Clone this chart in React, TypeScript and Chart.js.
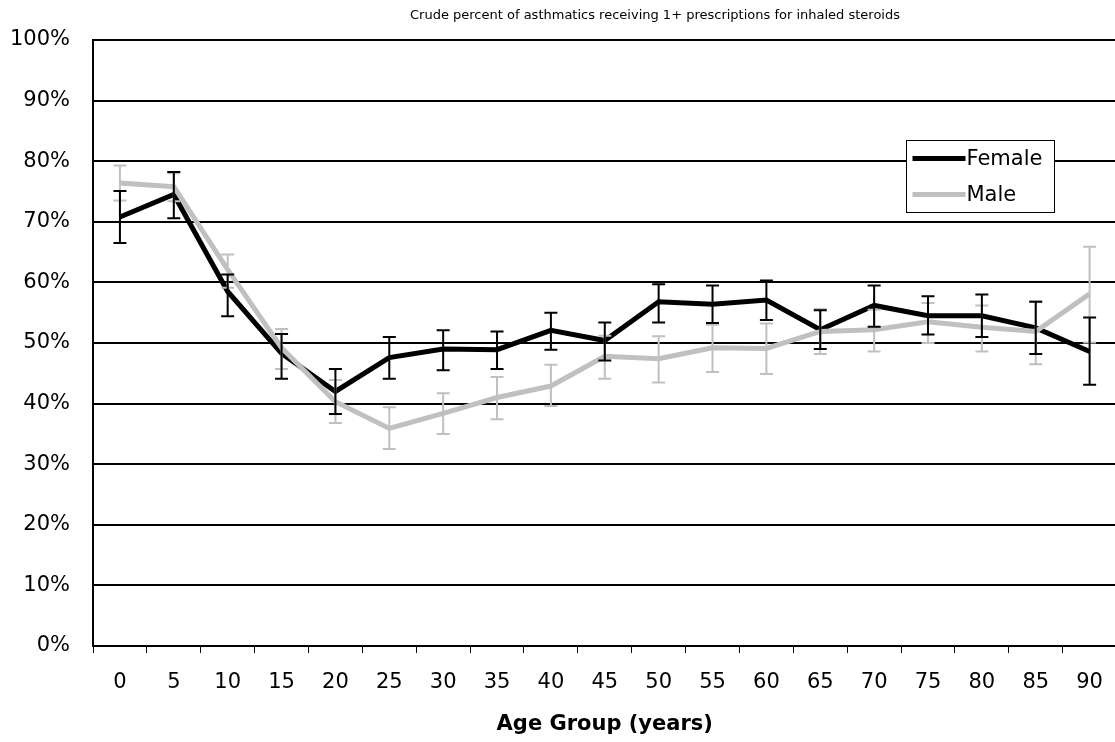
import React, { useEffect, useRef } from 'react';
import { Chart, registerables } from 'chart.js';

Chart.register(...registerables);

// ---- Data ----
const ageGroups = ['0', '5', '10', '15', '20', '25', '30', '35', '40', '45', '50', '55', '60', '65', '70', '75', '80', '85', '90'];

const female = [70.8, 74.5, 58.5, 48.3, 42.0, 47.6, 49.0, 48.9, 52.1, 50.4, 56.8, 56.4, 57.1, 52.2, 56.2, 54.5, 54.5, 52.5, 48.6];
const femaleLow = [66.5, 70.6, 54.4, 44.1, 38.3, 44.1, 45.5, 45.7, 48.9, 47.1, 53.4, 53.3, 53.8, 49.0, 52.7, 51.4, 51.0, 48.2, 43.1];
const femaleHigh = [75.1, 78.2, 61.3, 51.5, 45.7, 51.0, 52.1, 51.9, 55.0, 53.4, 59.7, 59.5, 60.3, 55.4, 59.5, 57.7, 58.0, 56.8, 54.2];

const male = [76.4, 75.8, 62.1, 49.2, 40.3, 35.9, 38.4, 41.0, 42.9, 47.8, 47.4, 49.2, 49.1, 51.9, 52.2, 53.5, 52.6, 51.9, 58.1];
const maleLow = [73.5, 73.4, 59.1, 45.7, 36.8, 32.5, 35.0, 37.4, 39.6, 44.1, 43.5, 45.2, 44.9, 48.2, 48.6, 50.0, 48.6, 46.5, 50.1];
const maleHigh = [79.3, 78.0, 64.6, 52.3, 43.9, 39.4, 41.7, 44.4, 46.4, 51.2, 51.1, 53.0, 53.2, 55.6, 55.5, 56.6, 56.2, 56.9, 65.9];

const chartTitle = 'Crude percent of asthmatics receiving 1+ prescriptions for inhaled steroids';
const xAxisTitle = 'Age Group (years)';
const seriesNames = ['Female', 'Male'];

const FEMALE_COLOR = '#000000';
const MALE_COLOR = '#c0c0c0';
const FONT = '"DejaVu Sans", "Liberation Sans", Arial, sans-serif';

const errorBarPlugin = {
  id: 'errorBars',
  afterDatasetsDraw(chart: any) {
    const { ctx, scales } = chart;
    const xs = scales.x;
    const ys = scales.y;
    // draw Male bars first, Female bars on top
    const order = [1, 0];
    ctx.save();
    ctx.lineWidth = 2;
    ctx.lineCap = 'butt';
    for (const di of order) {
      const ds = chart.data.datasets[di];
      const lows: number[] = ds.errLow;
      const highs: number[] = ds.errHigh;
      ctx.strokeStyle = ds.borderColor;
      lows.forEach((lo, i) => {
        const px = xs.getPixelForValue(i);
        const yl = ys.getPixelForValue(lo);
        const yh = ys.getPixelForValue(highs[i]);
        const cap = 6.5;
        ctx.beginPath();
        ctx.moveTo(px, yl);
        ctx.lineTo(px, yh);
        ctx.moveTo(px - cap, yl);
        ctx.lineTo(px + cap, yl);
        ctx.moveTo(px - cap, yh);
        ctx.lineTo(px + cap, yh);
        ctx.stroke();
      });
    }
    ctx.restore();
  },
};

const boxLegendPlugin = {
  id: 'boxLegend',
  afterDraw(chart: any) {
    const { ctx } = chart;
    const left = 906.5;
    const top = 140.5;
    const w = 148;
    const h = 72;
    ctx.save();
    ctx.fillStyle = '#ffffff';
    ctx.fillRect(left, top, w, h);
    ctx.strokeStyle = '#000000';
    ctx.lineWidth = 1;
    ctx.strokeRect(left, top, w, h);
    chart.data.datasets.forEach((ds: any, i: number) => {
      const y = top + 18 + i * 36;
      ctx.strokeStyle = ds.borderColor;
      ctx.lineWidth = 5;
      ctx.beginPath();
      ctx.moveTo(left + 6, y);
      ctx.lineTo(left + 59, y);
      ctx.stroke();
      ctx.fillStyle = '#000000';
      ctx.font = `21px ${FONT}`;
      ctx.textAlign = 'left';
      ctx.textBaseline = 'middle';
      ctx.fillText(ds.label, left + 60, y + 1);
    });
    ctx.restore();
  },
};

const topTitlePlugin = {
  id: 'topTitle',
  afterDraw(chart: any) {
    const { ctx } = chart;
    ctx.save();
    ctx.fillStyle = '#000000';
    ctx.font = `13px ${FONT}`;
    ctx.textAlign = 'center';
    ctx.textBaseline = 'middle';
    ctx.fillText(chartTitle, 655, 16);
    ctx.restore();
  },
};

export default function App() {
  const ref = useRef<HTMLCanvasElement>(null);

  useEffect(() => {
    const canvas = ref.current;
    if (!canvas) return;
    const chart = new Chart(canvas, {
      type: 'line',
      data: {
        labels: ageGroups,
        datasets: [
          {
            label: seriesNames[0],
            data: female,
            borderColor: FEMALE_COLOR,
            backgroundColor: FEMALE_COLOR,
            borderWidth: 5,
            pointRadius: 0,
            tension: 0,
            order: 1,
            errLow: femaleLow,
            errHigh: femaleHigh,
          } as any,
          {
            label: seriesNames[1],
            data: male,
            borderColor: MALE_COLOR,
            backgroundColor: MALE_COLOR,
            borderWidth: 5,
            pointRadius: 0,
            tension: 0,
            order: 0,
            errLow: maleLow,
            errHigh: maleHigh,
          } as any,
        ],
      },
      options: {
        animation: false,
        responsive: false,
        maintainAspectRatio: false,
        devicePixelRatio: 1,
        layout: { padding: { top: 40, left: 0, right: 1, bottom: 0 } },
        plugins: {
          legend: { display: false },
          title: { display: false },
          tooltip: { enabled: false },
        },
        scales: {
          x: {
            type: 'category',
            offset: true,
            grid: {
              offset: true,
              drawOnChartArea: false,
              drawTicks: true,
              tickLength: 7,
              color: '#000000',
              lineWidth: 1,
            },
            border: { display: true, color: '#000000', width: 2 },
            ticks: {
              color: '#000000',
              font: { family: FONT, size: 21 },
              padding: 17,
              maxRotation: 0,
              autoSkip: false,
            },
            title: {
              display: true,
              text: xAxisTitle,
              color: '#000000',
              font: { family: FONT, size: 21, weight: 'bold' },
              padding: { top: 0, bottom: 5 },
            },
            afterFit: (s: any) => {
              s.height = 96;
            },
          },
          y: {
            type: 'linear',
            min: 0,
            max: 100,
            grid: {
              drawTicks: false,
              color: '#000000',
              lineWidth: 2,
            },
            border: { display: true, color: '#000000', width: 2 },
            ticks: {
              stepSize: 10,
              color: '#000000',
              font: { family: FONT, size: 21 },
              padding: 23,
              callback: (v: any) => `${v}%`,
            },
            afterFit: (s: any) => {
              s.width = 93;
            },
          },
        },
      },
      plugins: [errorBarPlugin, boxLegendPlugin, topTitlePlugin],
    });
    return () => chart.destroy();
  }, []);

  return (
    <div
      style={{
        position: 'fixed',
        left: 0,
        top: 0,
        width: 1115,
        height: 742,
        overflow: 'hidden',
        background: '#ffffff',
      }}
    >
      <canvas ref={ref} width={1120} height={742} style={{ display: 'block', width: 1120, height: 742 }} />
    </div>
  );
}
